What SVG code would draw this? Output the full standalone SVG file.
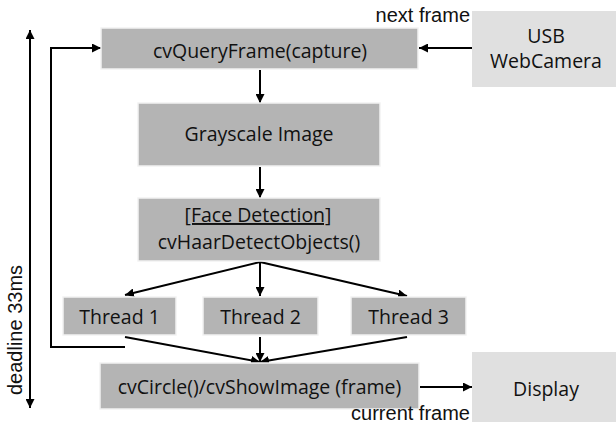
<svg xmlns="http://www.w3.org/2000/svg" width="616" height="425" viewBox="0 0 616 425">
  <defs>
    <marker id="arrow" viewBox="0 0 10 10" refX="10" refY="5" markerWidth="4.5" markerHeight="4.5" orient="auto" markerUnits="strokeWidth">
      <path d="M0,0 L10,5 L0,10 z" fill="#000"/>
    </marker>
    <style>
      .proc { fill: #b4b4b4; stroke: #f2f2f2; stroke-width: 1.5; }
      .io { fill: #e0e0e0; stroke: none; }
      .lbl { font-family: "Open Sans", "Noto Sans", sans-serif; font-size: 19.5px; fill: #111; text-anchor: middle; }
      .note { font-family: "Liberation Sans", Arial, sans-serif; font-size: 20px; fill: #111; }
      .conn { fill: none; stroke: #000; stroke-width: 2; }
      .arr { marker-end: url(#arrow); }
    </style>
  </defs>
  <rect width="616" height="425" fill="#fff"/>

  <!-- connectors -->
  <g id="connectors">
    <line class="conn arr" x1="472" y1="48" x2="419" y2="48"/>
    <line class="conn arr" x1="260" y1="70" x2="260" y2="103"/>
    <line class="conn arr" x1="260" y1="167" x2="260" y2="198"/>
    <line class="conn arr" x1="260" y1="262" x2="125" y2="295"/>
    <line class="conn arr" x1="260" y1="262" x2="260" y2="296"/>
    <line class="conn arr" x1="260" y1="262" x2="407" y2="296"/>
    <line class="conn arr" x1="125" y1="337" x2="260" y2="362"/>
    <line class="conn arr" x1="260" y1="337" x2="260" y2="362"/>
    <line class="conn arr" x1="407" y1="337" x2="260" y2="362"/>
    <line class="conn arr" x1="420" y1="387" x2="472" y2="387"/>
    <polyline class="conn arr" points="125,347 51,347 51,48 101,48"/>
    <line class="conn arr" x1="30" y1="220" x2="30" y2="30"/>
    <line class="conn arr" x1="30" y1="220" x2="30" y2="408"/>
  </g>

  <g id="usb-camera">
    <rect class="io" x="472" y="11" width="144" height="76"/>
    <text class="lbl" x="546" y="43">USB</text>
    <text class="lbl" x="546" y="68">WebCamera</text>
  </g>

  <g id="query-frame">
    <rect class="proc" x="101" y="28" width="317" height="41"/>
    <text class="lbl" x="260" y="58">cvQueryFrame(capture)</text>
  </g>

  <g id="grayscale">
    <rect class="proc" x="138" y="103" width="242" height="63"/>
    <text class="lbl" x="259" y="141">Grayscale Image</text>
  </g>

  <g id="face-detection">
    <rect class="proc" x="138" y="198" width="242" height="63"/>
    <text class="lbl" x="258" y="222" text-decoration="underline">[Face Detection]</text>
    <text class="lbl" x="259" y="249">cvHaarDetectObjects()</text>
  </g>

  <g id="thread-1">
    <rect class="proc" x="63" y="297" width="113" height="38"/>
    <text class="lbl" x="119.5" y="324">Thread 1</text>
  </g>

  <g id="thread-2">
    <rect class="proc" x="203" y="297" width="115" height="38"/>
    <text class="lbl" x="260.5" y="324">Thread 2</text>
  </g>

  <g id="thread-3">
    <rect class="proc" x="351" y="297" width="115" height="38"/>
    <text class="lbl" x="408.5" y="324">Thread 3</text>
  </g>

  <g id="show-image">
    <rect class="proc" x="100" y="363" width="319" height="46"/>
    <text class="lbl" x="259.5" y="394">cvCircle()/cvShowImage (frame)</text>
  </g>

  <g id="display">
    <rect class="io" x="472" y="352" width="144" height="70"/>
    <text class="lbl" x="546" y="396">Display</text>
  </g>

  <g id="annotations">
    <text class="note" x="470" y="22" text-anchor="end">next frame</text>
    <text class="note" x="470" y="420" text-anchor="end">current frame</text>
    <text class="note" transform="translate(22,330) rotate(-90)" text-anchor="middle">deadline 33ms</text>
  </g>
</svg>
